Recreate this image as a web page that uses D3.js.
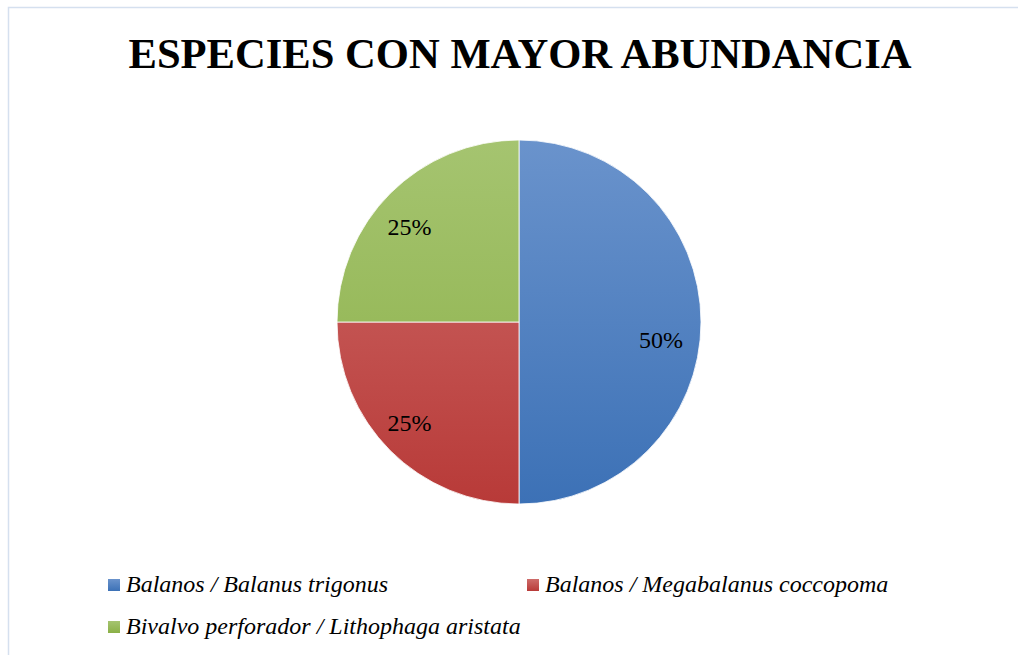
<!DOCTYPE html>
<html>
<head>
<meta charset="utf-8">
<script src="https://cdn.jsdelivr.net/npm/d3@7"></script>
<style>
  body { margin: 0; background: #fff; }
  svg { display: block; }
</style>
</head>
<body>
<div id="chart"></div>
<script>
// chart data
var categories = ["Balanos / Balanus trigonus", "Balanos / Megabalanus coccopoma", "Bivalvo perforador / Lithophaga aristata"];
var values = [50, 25, 25];
var labels = ["50%", "25%", "25%"];
var colorsTop = ["#6a93cc", "#ce6c6a", "#a5c470"];
var colorsBottom = ["#3c71b6", "#b83a38", "#8bb047"];

var width = 1018, height = 655;
var cx = 519, cy = 322, radius = 182;
var serif = "'Liberation Serif', 'Times New Roman', serif";

var svg = d3.select("#chart").append("svg")
    .attr("width", width)
    .attr("height", height);

// outer chart border
svg.append("rect")
    .attr("x", 8.5).attr("y", 7.5)
    .attr("width", 1030).attr("height", 680)
    .attr("fill", "#fff")
    .attr("stroke", "#d5e0ef")
    .attr("stroke-width", 1.5);

// title
svg.append("text")
    .attr("x", 520).attr("y", 68)
    .attr("text-anchor", "middle")
    .style("font-family", serif)
    .style("font-weight", "bold")
    .style("font-size", "42.6px")
    .text("ESPECIES CON MAYOR ABUNDANCIA");

// vertical gradients for slices
var defs = svg.append("defs");
categories.forEach(function (c, i) {
    var g = defs.append("linearGradient")
        .attr("id", "grad" + i)
        .attr("gradientUnits", "userSpaceOnUse")
        .attr("x1", 0).attr("y1", -radius)
        .attr("x2", 0).attr("y2", radius);
    g.append("stop").attr("offset", "0%").attr("stop-color", colorsTop[i]);
    g.append("stop").attr("offset", "100%").attr("stop-color", colorsBottom[i]);

    var lg = defs.append("linearGradient")
        .attr("id", "lg" + i)
        .attr("x1", 0).attr("y1", 0).attr("x2", 0).attr("y2", 1);
    lg.append("stop").attr("offset", "0%").attr("stop-color", colorsTop[i]);
    lg.append("stop").attr("offset", "100%").attr("stop-color", colorsBottom[i]);
});

var pie = d3.pie().sort(null).value(function (d) { return d; });
var arc = d3.arc().innerRadius(0).outerRadius(radius);
var labelArc = d3.arc().innerRadius(radius * 0.78).outerRadius(radius * 0.78);
// small nudges so labels sit where the original puts them
var labelShift = [[0, 18], [-9, 0], [-9, 5]];

var g = svg.append("g").attr("transform", "translate(" + cx + "," + cy + ")");
var arcs = pie(values);

g.selectAll("path.slice")
    .data(arcs)
    .enter().append("path")
    .attr("class", "slice")
    .attr("d", arc)
    .attr("fill", function (d, i) { return "url(#grad" + i + ")"; })
    .attr("stroke", "#ffffff")
    .attr("stroke-width", 0.8);

g.selectAll("text.lbl")
    .data(arcs)
    .enter().append("text")
    .attr("class", "lbl")
    .attr("transform", function (d) {
        var p = labelArc.centroid(d);
        var s = labelShift[d.index];
        return "translate(" + (p[0] + s[0]) + "," + (p[1] + s[1]) + ")";
    })
    .attr("text-anchor", "middle")
    .attr("dy", "0.35em")
    .style("font-family", serif)
    .style("font-size", "24px")
    .text(function (d, i) { return labels[i]; });

// legend
var legendPos = [[108, 585], [527, 585], [108, 627]];
var legend = svg.selectAll("g.legend")
    .data(categories)
    .enter().append("g")
    .attr("class", "legend")
    .attr("transform", function (d, i) { return "translate(" + legendPos[i][0] + "," + legendPos[i][1] + ")"; });

legend.append("rect")
    .attr("x", 0).attr("y", -6)
    .attr("width", 12).attr("height", 12)
    .attr("fill", function (d, i) { return "url(#lg" + i + ")"; });

legend.append("text")
    .attr("x", 18).attr("y", 7)
    .style("font-family", serif)
    .style("font-style", "italic")
    .style("font-size", "24px")
    .text(function (d) { return d; });
</script>
</body>
</html>
